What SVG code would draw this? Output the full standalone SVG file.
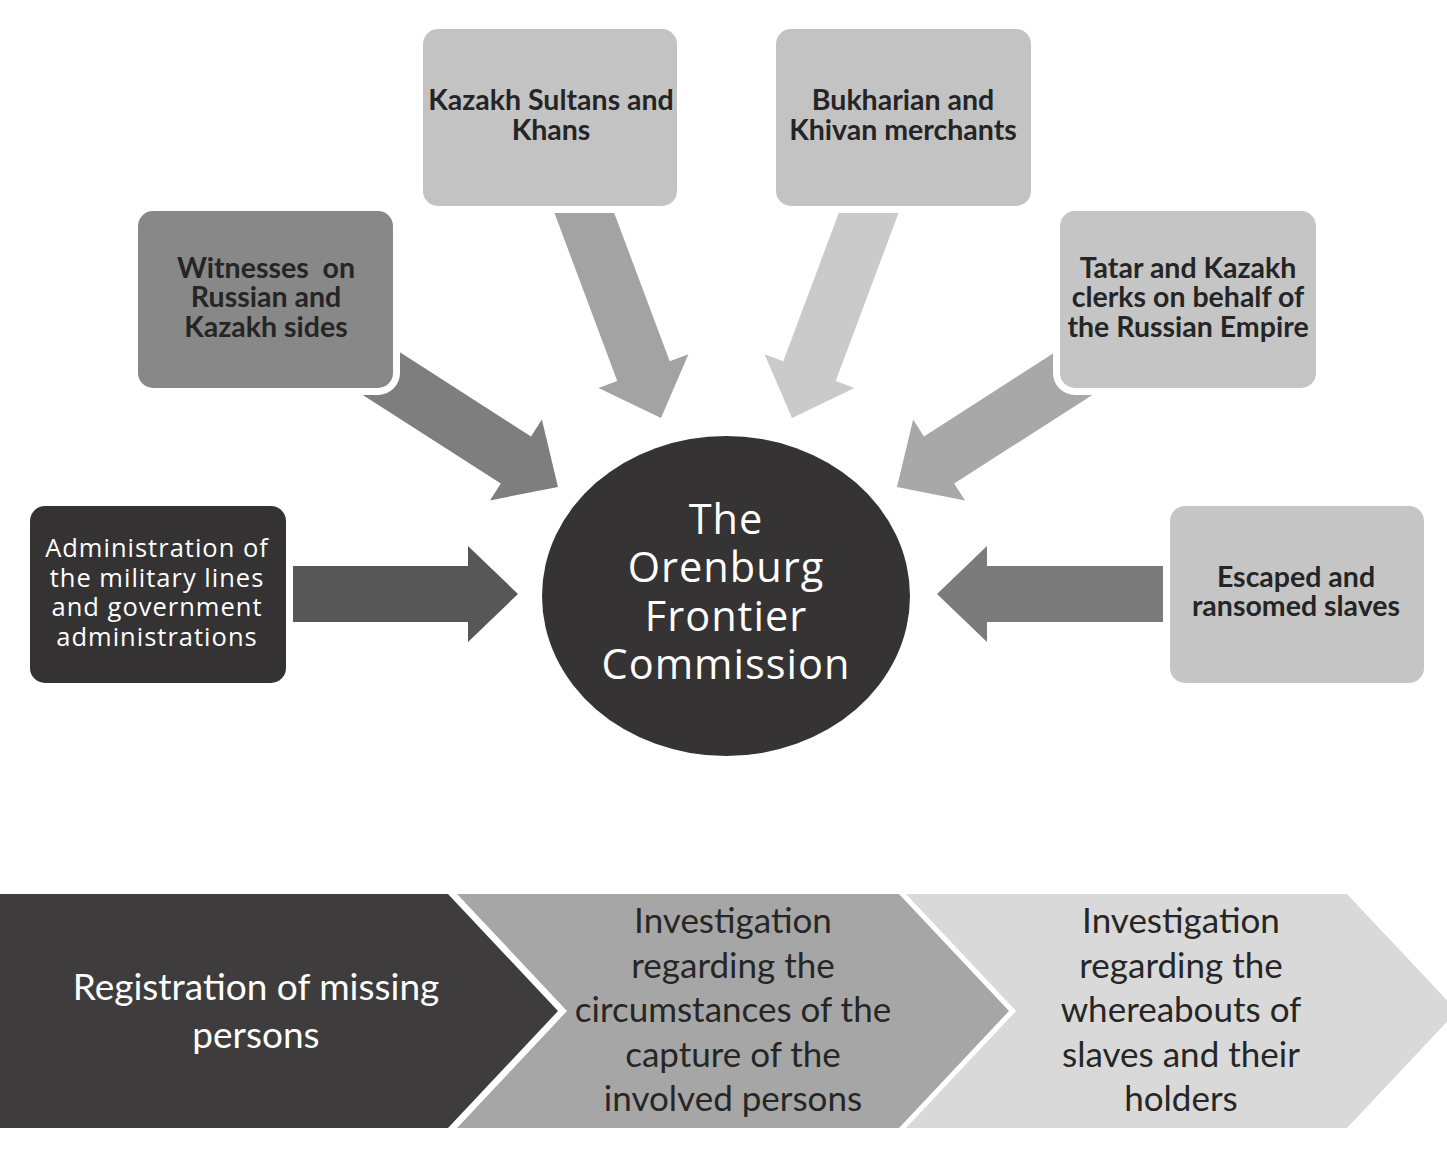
<svg xmlns="http://www.w3.org/2000/svg" xmlns:xlink="http://www.w3.org/1999/xlink" width="1447" height="1150" viewBox="0 0 1447 1150">
<style>
.box{stroke:#ffffff;stroke-width:14;paint-order:stroke}
.lt{font-family:Lato,"Liberation Sans",sans-serif;font-weight:700;font-size:28.5px;fill:#252525;text-anchor:middle}
.os{font-family:"Open Sans","Noto Sans",sans-serif;font-size:25.5px;fill:#ffffff;text-anchor:middle;letter-spacing:1px}
.ctr{font-family:"Open Sans","Noto Sans",sans-serif;font-size:41.5px;fill:#ffffff;text-anchor:middle;letter-spacing:1px}
.ch{font-family:Lato,"Liberation Sans",sans-serif;font-size:35px;text-anchor:middle}
</style>
<defs>
<path id="arw" d="M-240,-28 L-50,-28 L-50,-48 L0,0 L-50,48 L-50,28 L-240,28 Z"/>
</defs>
<rect width="1447" height="1150" fill="#ffffff"/>
<g id="connectors">
<use xlink:href="#arw" fill="#575757" transform="translate(518,594)"/>
<use xlink:href="#arw" fill="#7e7e7e" transform="translate(558,487) rotate(32.7)"/>
<use xlink:href="#arw" fill="#a3a3a3" transform="translate(661,418) rotate(69.5)"/>
<use xlink:href="#arw" fill="#cacaca" transform="translate(792,418) rotate(110.5)"/>
<use xlink:href="#arw" fill="#a8a8a8" transform="translate(897,487) rotate(147.3)"/>
<use xlink:href="#arw" fill="#7b7b7b" transform="translate(937,594) rotate(180)"/>
</g>
<g id="node-admin">
<rect class="box" x="30" y="506" width="256" height="177" rx="15" fill="#343233"/>
<text class="os" x="157" y="557">Administration of</text>
<text class="os" x="157" y="587">the military lines</text>
<text class="os" x="157" y="616">and government</text>
<text class="os" x="157" y="646">administrations</text>
</g>
<g id="node-witnesses">
<rect class="box" x="138" y="211" width="255" height="177" rx="15" fill="#888888"/>
<text class="lt" x="266" y="278" xml:space="preserve">Witnesses  on</text>
<text class="lt" x="266" y="307">Russian and</text>
<text class="lt" x="266" y="337">Kazakh sides</text>
</g>
<g id="node-sultans">
<rect class="box" x="423" y="29" width="254" height="177" rx="15" fill="#c3c3c3"/>
<text class="lt" x="551" y="110">Kazakh Sultans and</text>
<text class="lt" x="551" y="140">Khans</text>
</g>
<g id="node-bukharian">
<rect class="box" x="776" y="29" width="255" height="177" rx="15" fill="#c3c3c3"/>
<text class="lt" x="903" y="110">Bukharian and</text>
<text class="lt" x="903" y="140">Khivan merchants</text>
</g>
<g id="node-tatar">
<rect class="box" x="1060" y="211" width="256" height="177" rx="15" fill="#c5c5c5"/>
<text class="lt" x="1188" y="278">Tatar and Kazakh</text>
<text class="lt" x="1188" y="307">clerks on behalf of</text>
<text class="lt" x="1188" y="337">the Russian Empire</text>
</g>
<g id="node-escaped">
<rect class="box" x="1170" y="506" width="254" height="177" rx="15" fill="#c5c5c5"/>
<text class="lt" x="1296" y="587">Escaped and</text>
<text class="lt" x="1296" y="616">ransomed slaves</text>
</g>
<g id="node-commission">
<ellipse cx="726" cy="596" rx="184" ry="160" fill="#353334"/>
<text class="ctr" x="726" y="534">The</text>
<text class="ctr" x="726" y="582">Orenburg</text>
<text class="ctr" x="726" y="631">Frontier</text>
<text class="ctr" x="726" y="679">Commission</text>
</g>
<g id="node-step1">
<polygon points="0,894 448,894 558,1011 448,1128 0,1128" fill="#3e3c3d"/>
<text class="ch" x="256" y="1000" fill="#ffffff" style="font-size:37px">Registration of missing</text>
<text class="ch" x="256" y="1048" fill="#ffffff" style="font-size:37px">persons</text>
</g>
<g id="node-step2">
<polygon points="457,894 899,894 1009,1011 899,1128 457,1128 567,1011" fill="#a6a6a6"/>
<text class="ch" x="733" y="933" fill="#262626">Investigation</text>
<text class="ch" x="733" y="978" fill="#262626">regarding the</text>
<text class="ch" x="733" y="1022" fill="#262626">circumstances of the</text>
<text class="ch" x="733" y="1067" fill="#262626">capture of the</text>
<text class="ch" x="733" y="1111" fill="#262626">involved persons</text>
</g>
<g id="node-step3">
<polygon points="906,894 1347,894 1457,1011 1347,1128 906,1128 1016,1011" fill="#d9d9d9"/>
<text class="ch" x="1181" y="933" fill="#262626">Investigation</text>
<text class="ch" x="1181" y="978" fill="#262626">regarding the</text>
<text class="ch" x="1181" y="1022" fill="#262626">whereabouts of</text>
<text class="ch" x="1181" y="1067" fill="#262626">slaves and their</text>
<text class="ch" x="1181" y="1111" fill="#262626">holders</text>
</g>
</svg>
